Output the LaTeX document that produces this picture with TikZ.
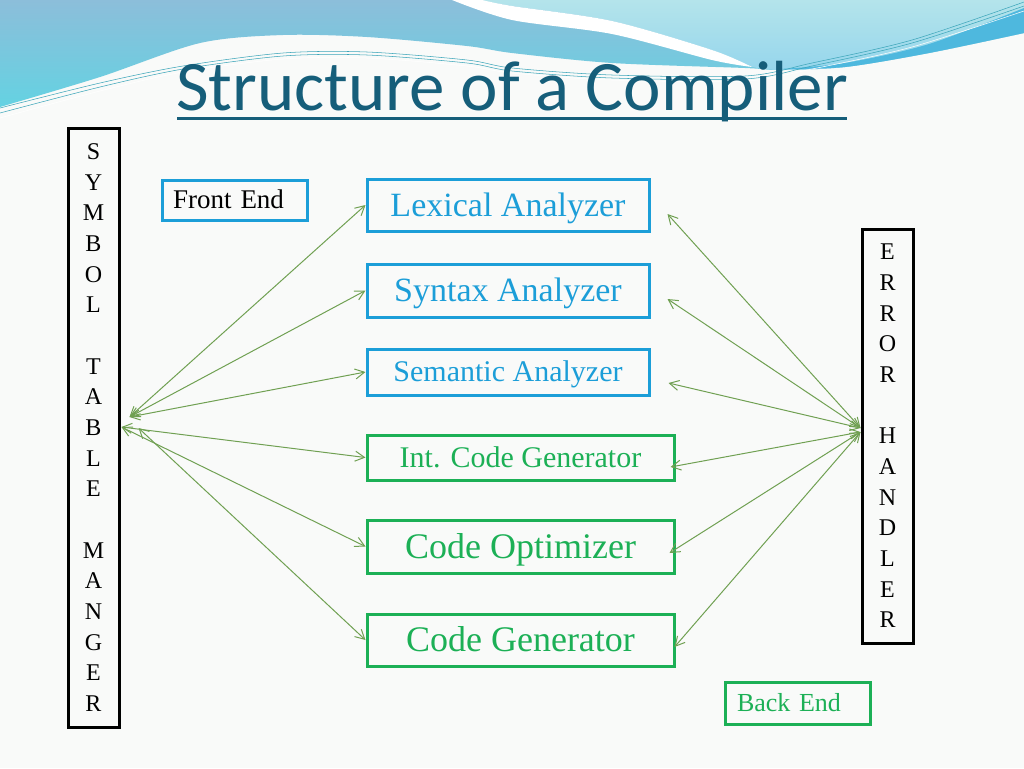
\documentclass[tikz,border=0pt]{standalone}
\usepackage{fontspec}
\setmainfont{Liberation Serif}
\newfontfamily\titlefont{Carlito}
\usetikzlibrary{arrows.meta,calc}
\definecolor{bluebox}{RGB}{28,158,216}
\definecolor{greenbox}{RGB}{28,176,86}
\definecolor{titlecol}{RGB}{22,94,122}
\definecolor{arrowcol}{RGB}{112,160,82}
\definecolor{bgcol}{RGB}{249,250,249}
\definecolor{waveA}{RGB}{140,190,218}
\definecolor{waveB}{RGB}{100,210,226}
\definecolor{waveC}{RGB}{180,228,235}
\definecolor{waveD}{RGB}{150,214,236}
\definecolor{waveE}{RGB}{78,184,222}
\definecolor{thinline}{RGB}{60,165,185}
\tikzset{
  boxbase/.style={draw, line width=2.25pt, inner sep=0pt, text depth=0pt},
  bluebx/.style={boxbase, draw=bluebox, text=bluebox},
  greenbx/.style={boxbase, draw=greenbox, text=greenbox},
  fs/.style 2 args={font=\fontsize{#1}{#1}\selectfont, text height=#2},
  vbox/.style={draw=black, line width=2.25pt, inner sep=0pt, align=center, font=\fontsize{18}{23}\selectfont},
  link/.style={arrowcol, line width=0.75pt, {Straight Barb[length=7pt,width=7.5pt]}-{Straight Barb[length=7pt,width=7.5pt]}},
  wline/.style={thinline, line width=0.4pt}
}
\begin{document}
\begin{tikzpicture}[x=0.75pt,y=-0.75pt]
\fill[bgcol] (0,0) rectangle (1024,768);
\useasboundingbox (0,0) rectangle (1024,768);
% waves
\shade[top color=waveA, bottom color=waveB] (0,0) -- (1024,0) -- (1024,33) -- plot[smooth] coordinates {(1024,33) (929,53) (845,67) (779,70) (745,68) (612,63) (512,53) (467,46) (367,37) (283,35) (200,43) (100,77) (0,107)} -- cycle;
\shade[top color=waveC, bottom color=waveD] (480,0) -- (1024,0) -- (1024,33) -- plot[smooth] coordinates {(1024,33) (929,53) (845,67) (779,70) (752,67)} -- plot[smooth] coordinates {(752,67) (712,50) (612,21) (512,6) (480,0)} -- cycle;
\fill[white] plot[smooth] coordinates {(452,0) (512,20) (612,34) (712,60) (752,67)} -- plot[smooth] coordinates {(752,67) (712,50) (612,21) (512,6) (482,0)} -- cycle;
\fill[waveE] plot[smooth] coordinates {(780,69) (845,63) (929,44) (1024,8)} -- (1024,33) -- plot[smooth] coordinates {(1024,33) (929,53) (845,67) (780,69)} -- cycle;
\draw[wline] plot[smooth] coordinates {(0,108) (100,83) (183,66) (283,53) (367,52) (467,60) (512,68) (612,75) (745,76) (812,63) (912,40) (1024,2)};
\draw[wline] plot[smooth] coordinates {(0,113) (100,87) (183,69) (283,56) (367,55) (467,63) (512,71) (612,78) (745,79) (812,66) (912,43) (1024,6)};
\draw[wline, white] plot[smooth] coordinates {(0,118) (100,91) (183,72) (283,59) (367,58) (467,66) (512,73) (612,80) (745,81) (812,69) (912,47) (1024,11)};
% title
\node[anchor=base, inner sep=0pt, text=titlecol, font=\titlefont\fontsize{53.25}{60}\selectfont] (title) at (512,110) {Structure of a Compiler};
\draw[titlecol, line width=2.6pt] (177,118.5) -- (847,118.5);
% side boxes
\node[vbox, minimum width=38.25pt, minimum height=449.25pt] (sym) at (93.5,427.5) {S\\Y\\M\\B\\O\\L\\\mbox{}\\T\\A\\B\\L\\E\\\mbox{}\\M\\A\\N\\G\\E\\R};
\node[vbox, minimum width=38.25pt, minimum height=310.5pt] (err) at (887.5,436) {E\\R\\R\\O\\R\\\mbox{}\\H\\A\\N\\D\\L\\E\\R};
% labels
\node[bluebx, text=black, fs={20.25}{13.4pt}, minimum width=108.75pt, minimum height=30pt, text width=92.25pt, align=left, inner xsep=8.25pt] (front) at (234.5,200) {Front End};
\node[greenbx, fs={19.5}{12.9pt}, minimum width=108.75pt, minimum height=31.5pt, text width=90.75pt, align=left, inner xsep=9pt] (back) at (797.5,703) {Back End};
% phases
\node[bluebx, fs={25.5}{16.9pt}, minimum width=211.5pt, minimum height=39pt] (lex) at (508,205) {Lexical Analyzer};
\node[bluebx, fs={25.5}{16.9pt}, minimum width=211.5pt, minimum height=39.75pt] (syn) at (508,290.5) {Syntax Analyzer};
\node[bluebx, fs={22.5}{14.9pt}, minimum width=211.5pt, minimum height=34.5pt] (sem) at (508,372) {Semantic Analyzer};
\node[greenbx, fs={22.5}{14.9pt}, minimum width=230.25pt, minimum height=33.75pt] (icg) at (520.5,457.5) {Int. Code Generator};
\node[greenbx, fs={27}{17.9pt}, minimum width=230.25pt, minimum height=39.75pt] (opt) at (520.5,546.5) {Code Optimizer};
\node[greenbx, fs={27}{17.9pt}, minimum width=230.25pt, minimum height=39pt] (gen) at (520.5,640) {Code Generator};
% hubs
\coordinate (stA) at ($(sym.east)+(9,-10.5)$);
\coordinate (stB) at ($(sym.east)+(1,-0.5)$);
\coordinate (stC) at ($(sym.east)+(18,0.5)$);
\coordinate (ehA) at ($(err.west)+(0,-8)$);
\coordinate (ehB) at ($(err.west)+(0,-4)$);
% symbol table links
\draw[link] (stA) -- (lex.west);
\draw[link] (stA) -- (syn.west);
\draw[link] (stA) -- (sem.west);
\draw[link] (stB) -- (icg.west);
\draw[link] (stB) -- (opt.west);
\draw[link] (stC) -- (gen.west);
% error handler links
\draw[link] (ehA) -- ($(lex.east)+(17,9)$);
\draw[link] (ehA) -- ($(syn.east)+(17,8.5)$);
\draw[link] (ehA) -- ($(sem.east)+(18,11)$);
\draw[link] (ehB) -- ($(icg.east)+(-5,9.5)$);
\draw[link] (ehB) -- ($(opt.east)+(-6,6.5)$);
\draw[link] (ehB) -- ($(gen.east)+(-1,7)$);
\end{tikzpicture}
\end{document}
